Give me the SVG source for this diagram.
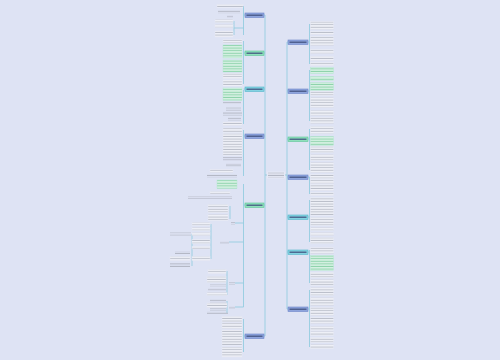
<svg xmlns="http://www.w3.org/2000/svg" width="500" height="360" viewBox="0 0 500 360">
<defs>
<pattern id="pw" patternUnits="userSpaceOnUse" width="100" height="2.6"><rect width="100" height="2.6" fill="#f4f6fc"/><rect y="0.7" width="100" height="1.1" fill="#bcc0cb"/></pattern>
<pattern id="pg" patternUnits="userSpaceOnUse" width="100" height="2.6"><rect width="100" height="2.6" fill="#dcf4e8"/><rect y="0.7" width="100" height="1.1" fill="#8fd3ac"/></pattern>
<pattern id="pn" patternUnits="userSpaceOnUse" width="100" height="2.6"><rect y="0.7" width="100" height="1.1" fill="#b4b8c5"/></pattern>
</defs>
<style>
.ln{stroke:#94cde0;stroke-width:0.9;fill:none}
.w{fill:url(#pw);stroke:#e8ebf5;stroke-width:0.4}
.g{fill:url(#pg);stroke:#b5e8cf;stroke-width:0.4}
.p{fill:url(#pn)}
.nb{fill:#8ea4dc;stroke:#6c84c8;stroke-width:0.6}
.ng{fill:#8fe0bc;stroke:#5cc596;stroke-width:0.6}
.nt{fill:#84d3e2;stroke:#52b5ca;stroke-width:0.6}
.nx{fill:#40507e}
</style>
<rect width="500" height="360" fill="#dee3f4"/>
<g id="connectors">
<path class="ln" d="M285 175 H287 M287 42 V309 M287 42 H288 M287 91 H288 M287 139 H288 M287 177 H288 M287 217 H288 M287 252 H288 M287 309 H288"/>
<path class="ln" d="M267 175 H265 M265 15 V336 M265 15 H264 M265 53 H264 M265 89 H264 M265 136 H264 M265 205 H264 M265 336 H264"/>
<path class="ln" d="M308 42 H309.5 M309.5 24 V64 M308 91 H309.5 M309.5 70 V121 M308 139 H309.5 M309.5 129 V170 M308 177 H309.5 M309.5 177 V194 M308 217 H309.5 M309.5 200 V242 M308 252 H309.5 M309.5 250 V283 M308 309 H309.5 M309.5 290 V347"/>
<path class="ln" d="M245 15 H243.5 M243.5 6 V35 M234 21 V35 M234 28 H243.5 M245 53 H243.5 M243.5 41 V84 M245 89 H243.5 M243.5 90 V124 M245 136 H243.5 M243.5 130 V176 M245 205 H243.5 M243.5 184 V307 M243.5 223 H235 M243.5 242 H229 M243.5 283 H235 M243.5 307 H235 M230 206 V219 M211 224 V259 M192 234 V266 M227 271 V295 M227 301 V313 M245 336 H243.5 M243.5 319 V352"/>
</g>
<g id="center"><rect x="267" y="171.5" width="18" height="7" fill="#e6e9f5"/><rect x="268" y="172.5" width="16" height="5.2" class="p"/></g>
<g id="r1"><rect class="nb" x="288" y="40" width="20" height="4.5"/><rect class="nx" x="289.5" y="41.6" width="17" height="1.2"/></g>
<g id="r2"><rect class="nb" x="288" y="89" width="20" height="4.5"/><rect class="nx" x="289.5" y="90.6" width="17" height="1.2"/></g>
<g id="r3"><rect class="ng" x="288" y="137" width="20" height="4.5"/><rect class="nx" x="289.5" y="138.6" width="17" height="1.2"/></g>
<g id="r4"><rect class="nb" x="288" y="175" width="20" height="4.5"/><rect class="nx" x="289.5" y="176.6" width="17" height="1.2"/></g>
<g id="r5"><rect class="nt" x="288" y="215" width="20" height="4.5"/><rect class="nx" x="289.5" y="216.6" width="17" height="1.2"/></g>
<g id="r6"><rect class="nt" x="288" y="250" width="20" height="4.5"/><rect class="nx" x="289.5" y="251.6" width="17" height="1.2"/></g>
<g id="r7"><rect class="nb" x="288" y="307" width="20" height="4.5"/><rect class="nx" x="289.5" y="308.6" width="17" height="1.2"/></g>
<g id="l1"><rect class="nb" x="245" y="13" width="19" height="4.5"/><rect class="nx" x="246.5" y="14.6" width="16" height="1.2"/></g>
<g id="l2"><rect class="ng" x="245" y="51" width="19" height="4.5"/><rect class="nx" x="246.5" y="52.6" width="16" height="1.2"/></g>
<g id="l3"><rect class="nt" x="245" y="87" width="19" height="4.5"/><rect class="nx" x="246.5" y="88.6" width="16" height="1.2"/></g>
<g id="l4"><rect class="nb" x="245" y="134" width="19" height="4.5"/><rect class="nx" x="246.5" y="135.6" width="16" height="1.2"/></g>
<g id="l5"><rect class="ng" x="245" y="203" width="19" height="4.5"/><rect class="nx" x="246.5" y="204.6" width="16" height="1.2"/></g>
<g id="l6"><rect class="nb" x="245" y="334" width="19" height="4.5"/><rect class="nx" x="246.5" y="335.6" width="16" height="1.2"/></g>
<g id="right-details">
<rect class="w" x="310.5" y="21.5" width="23" height="8"/>
<rect class="w" x="310.5" y="31.5" width="23" height="3"/>
<rect class="w" x="310.5" y="36.5" width="23" height="9"/>
<rect class="w" x="310.5" y="49.5" width="23" height="4"/>
<rect class="w" x="310.5" y="56.5" width="23" height="4"/>
<rect class="w" x="310.5" y="62.5" width="23" height="3"/>
<rect class="g" x="310.5" y="67.5" width="23" height="6"/>
<rect class="g" x="310.5" y="76.5" width="23" height="4"/>
<rect class="g" x="310.5" y="82.5" width="23" height="8"/>
<rect class="w" x="310.5" y="91.5" width="23" height="4"/>
<rect class="w" x="310.5" y="97.5" width="23" height="10"/>
<rect class="w" x="310.5" y="110.5" width="23" height="5"/>
<rect class="w" x="310.5" y="117.5" width="23" height="6"/>
<rect class="w" x="310.5" y="126.5" width="23" height="7"/>
<rect class="g" x="310.5" y="136.5" width="23" height="9"/>
<rect class="w" x="310.5" y="146.5" width="23" height="6"/>
<rect class="w" x="310.5" y="154.5" width="23" height="6"/>
<rect class="w" x="310.5" y="162.5" width="23" height="10"/>
<rect class="w" x="310.5" y="174.5" width="23" height="4"/>
<rect class="w" x="310.5" y="179.5" width="23" height="4"/>
<rect class="w" x="310.5" y="184.5" width="23" height="6"/>
<rect class="w" x="310.5" y="192.5" width="23" height="3"/>
<rect class="w" x="310.5" y="197.5" width="23" height="18"/>
<rect class="w" x="310.5" y="217.5" width="23" height="8"/>
<rect class="w" x="310.5" y="227.5" width="23" height="3"/>
<rect class="w" x="310.5" y="232.5" width="23" height="3"/>
<rect class="w" x="310.5" y="237.5" width="23" height="6"/>
<rect class="w" x="310.5" y="247.5" width="23" height="6"/>
<rect class="g" x="310.5" y="255.5" width="23" height="15"/>
<rect class="w" x="310.5" y="272.5" width="23" height="5"/>
<rect class="w" x="310.5" y="279.5" width="23" height="6"/>
<rect class="w" x="310.5" y="287.5" width="23" height="8"/>
<rect class="w" x="310.5" y="297.5" width="23" height="8"/>
<rect class="w" x="310.5" y="307.5" width="23" height="8"/>
<rect class="w" x="310.5" y="317.5" width="23" height="6"/>
<rect class="w" x="310.5" y="326.5" width="23" height="4"/>
<rect class="w" x="310.5" y="331.5" width="23" height="4"/>
<rect class="w" x="310.5" y="337.5" width="23" height="5"/>
<rect class="w" x="310.5" y="344.5" width="23" height="4"/>
</g>
<g id="left-details">
<rect class="w" x="217" y="4.5" width="26" height="3"/>
<rect class="p" x="218" y="10" width="22" height="3.5"/>
<rect class="p" x="227" y="15" width="6" height="2.5"/>
<rect class="w" x="215" y="19.5" width="18" height="3"/>
<rect class="w" x="215" y="24.5" width="18" height="3"/>
<rect class="w" x="215" y="31" width="18" height="6"/>
<rect class="w" x="223" y="39.5" width="19" height="3.5"/>
<rect class="g" x="223" y="45" width="19" height="13"/>
<rect class="g" x="223" y="60" width="19" height="12"/>
<rect class="w" x="223" y="73.5" width="19" height="5"/>
<rect class="w" x="223" y="80" width="19" height="6"/>
<rect class="g" x="223" y="88" width="19" height="12.5"/>
<rect class="p" x="223" y="101.5" width="18" height="2.5"/>
<rect class="p" x="226" y="107.5" width="15" height="3"/>
<rect class="p" x="223" y="112" width="19" height="3.5"/>
<rect class="p" x="228" y="117.5" width="13" height="3"/>
<rect class="w" x="223" y="122" width="19" height="3.5"/>
<rect class="w" x="223" y="128" width="19" height="4.5"/>
<rect class="w" x="223" y="133.5" width="19" height="22"/>
<rect class="p" x="223" y="157" width="19" height="3.5"/>
<rect class="p" x="226" y="163" width="15" height="4"/>
<rect class="w" x="210" y="169.5" width="23" height="3"/>
<rect class="p" x="207" y="174.5" width="30" height="3"/>
<rect class="g" x="217" y="180" width="20" height="8.5"/>
<rect class="w" x="210" y="191.5" width="20" height="2.5"/>
<rect class="p" x="188" y="196.5" width="44" height="2.5"/>
<rect class="p" x="231" y="222" width="4" height="2.5"/>
<rect class="p" x="220" y="241" width="9" height="2.5"/>
<rect class="p" x="229" y="282" width="6" height="2.5"/>
<rect class="p" x="229" y="306" width="6" height="2.5"/>
<rect class="w" x="208" y="204.5" width="20" height="3"/>
<rect class="w" x="208" y="208.5" width="20" height="4"/>
<rect class="w" x="208" y="214.5" width="20" height="6"/>
<rect class="w" x="192" y="222.5" width="18" height="3"/>
<rect class="w" x="192" y="227.5" width="18" height="3"/>
<rect class="w" x="192" y="232.5" width="18" height="3"/>
<rect class="w" x="192" y="239.5" width="18" height="4"/>
<rect class="w" x="192" y="246.5" width="18" height="2.5"/>
<rect class="w" x="192" y="256.5" width="18" height="4"/>
<rect class="p" x="170" y="232.5" width="21" height="3"/>
<rect class="p" x="175" y="251.5" width="15" height="2.5"/>
<rect class="w" x="170" y="256.5" width="20" height="4"/>
<rect class="p" x="170" y="263" width="20" height="4"/>
<rect class="w" x="208" y="269.5" width="18" height="4"/>
<rect class="w" x="207" y="276.5" width="19" height="6"/>
<rect class="p" x="210" y="284.5" width="16" height="2.5"/>
<rect class="p" x="208" y="288" width="18" height="2.5"/>
<rect class="w" x="207" y="292.5" width="20" height="3"/>
<rect class="p" x="210" y="299.5" width="16" height="3"/>
<rect class="w" x="207" y="303" width="20" height="4.5"/>
<rect class="p" x="210" y="308" width="16" height="2.5"/>
<rect class="p" x="207" y="311.5" width="21" height="2.5"/>
<rect class="w" x="222" y="316.5" width="20" height="5.5"/>
<rect class="w" x="222" y="323" width="20" height="5.5"/>
<rect class="w" x="222" y="330" width="20" height="15.5"/>
<rect class="w" x="222" y="347" width="20" height="10"/>
</g>
</svg>
